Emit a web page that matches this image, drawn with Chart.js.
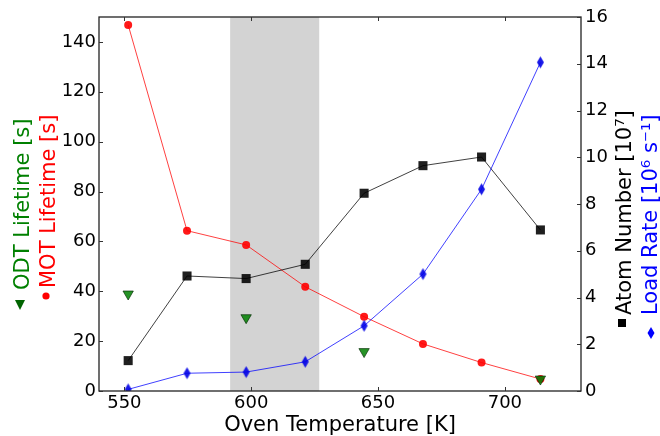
<!DOCTYPE html>
<html>
<head>
<meta charset="utf-8">
<script src="https://cdn.jsdelivr.net/npm/chart.js@4.4.1/dist/chart.umd.min.js"></script>
<style>
  body { margin: 0; background: #fff; }
  #wrap { width: 660px; height: 436px; }
</style>
</head>
<body>
<div id="wrap"><canvas id="chart" width="660" height="436"></canvas></div>
<script>
// values
const temps = [551.5, 574.7, 598, 621.3, 644.5, 667.7, 690.8, 714];
const motLifetime = [146.8, 64.3, 58.6, 41.8, 29.8, 18.9, 11.4, 4.8];
const atomNumber = [1.3, 4.92, 4.81, 5.42, 8.46, 9.64, 10.01, 6.89];
const loadRate = [0.07, 0.76, 0.81, 1.25, 2.79, 5.0, 8.63, 14.06];
const odtTemps = [551.5, 598, 644.5, 714];
const odtLifetime = [38.9, 29.4, 15.8, 4.8];
const shadedRange = [591.7, 626.8];

const xTicks = [550, 600, 650, 700];
const leftTicks = [0, 20, 40, 60, 80, 100, 120, 140];
const rightTicks = [0, 2, 4, 6, 8, 10, 12, 14, 16];

const FONT = '"DejaVu Sans", "Liberation Sans", sans-serif';

const pts = (xs, ys) => xs.map((x, i) => ({ x: x, y: ys[i] }));

// thin diamond marker like matplotlib 'd'
function thinDiamond(color) {
    const c = document.createElement('canvas');
    c.width = 9;
    c.height = 14;
    const g = c.getContext('2d');
    g.fillStyle = color;
    g.beginPath();
    g.moveTo(4.5, 1);
    g.lineTo(8, 7);
    g.lineTo(4.5, 13);
    g.lineTo(1, 7);
    g.closePath();
    g.fill();
    return c;
}

// grey band behind the data
const band = {
    id: 'band',
    beforeDatasetsDraw(chart) {
        const { ctx, chartArea, scales } = chart;
        const x0 = scales.x.getPixelForValue(shadedRange[0]);
        const x1 = scales.x.getPixelForValue(shadedRange[1]);
        ctx.save();
        ctx.fillStyle = '#d3d3d3';
        ctx.fillRect(x0, chartArea.top, x1 - x0, chartArea.bottom - chartArea.top);
        ctx.restore();
    }
};

// frame, inward ticks and the coloured axis titles
const frame = {
    id: 'frame',
    afterDraw(chart) {
        const { ctx, chartArea: a, scales } = chart;
        ctx.save();
        ctx.strokeStyle = '#222';
        ctx.lineWidth = 1.3;
        ctx.strokeRect(a.left, a.top, a.right - a.left, a.bottom - a.top);

        ctx.lineWidth = 1;
        ctx.strokeStyle = '#333';
        ctx.beginPath();
        xTicks.forEach(v => {
            const px = Math.round(scales.x.getPixelForValue(v)) + 0.5;
            ctx.moveTo(px, a.bottom); ctx.lineTo(px, a.bottom - 4);
            ctx.moveTo(px, a.top); ctx.lineTo(px, a.top + 4);
        });
        leftTicks.forEach(v => {
            const py = Math.round(scales.y.getPixelForValue(v)) + 0.5;
            ctx.moveTo(a.left, py); ctx.lineTo(a.left + 4, py);
        });
        rightTicks.forEach(v => {
            const py = Math.round(scales.y2.getPixelForValue(v)) + 0.5;
            ctx.moveTo(a.right, py); ctx.lineTo(a.right - 4, py);
        });
        ctx.stroke();

        ctx.font = '21px ' + FONT;
        vText(ctx, 'ODT Lifetime [s]', 29, 290, '#008000');
        vText(ctx, 'MOT Lifetime [s]', 55, 288, '#ff0000');
        vText(ctx, 'Atom Number [10\u2077]', 631, 315, '#000000');
        vText(ctx, 'Load Rate [10\u2076 s\u207b\u00b9]', 657, 315, '#0000ff');

        // little markers in front of the titles
        ctx.fillStyle = '#006400';
        ctx.beginPath();
        ctx.moveTo(15, 300); ctx.lineTo(25, 300); ctx.lineTo(20, 310);
        ctx.closePath();
        ctx.fill();
        ctx.fillStyle = '#ff0000';
        ctx.beginPath();
        ctx.arc(46, 296, 3.6, 0, Math.PI * 2);
        ctx.fill();
        ctx.fillStyle = '#000';
        ctx.fillRect(618, 319, 8, 8);
        ctx.fillStyle = '#0000ff';
        ctx.beginPath();
        ctx.moveTo(651, 327); ctx.lineTo(654.5, 333); ctx.lineTo(651, 339); ctx.lineTo(647.5, 333);
        ctx.closePath();
        ctx.fill();
        ctx.restore();
    }
};

function vText(ctx, text, x, y, color) {
    ctx.save();
    ctx.translate(x, y);
    ctx.rotate(-Math.PI / 2);
    ctx.fillStyle = color;
    ctx.textAlign = 'left';
    ctx.textBaseline = 'alphabetic';
    ctx.fillText(text, 0, 0);
    ctx.restore();
}

const tickFont = { family: FONT, size: 18 };

new Chart(document.getElementById('chart'), {
    type: 'scatter',
    data: {
        datasets: [
            {
                label: 'ODT Lifetime',
                data: pts(odtTemps, odtLifetime),
                yAxisID: 'y',
                showLine: false,
                pointStyle: 'triangle',
                pointRotation: 180,
                pointRadius: 6,
                pointBackgroundColor: 'rgba(0,128,0,0.85)',
                pointBorderColor: 'rgba(0,40,0,0.8)',
                pointBorderWidth: 0.8
            },
            {
                label: 'Load Rate',
                data: pts(temps, loadRate),
                yAxisID: 'y2',
                showLine: true,
                borderColor: 'rgba(0,0,255,0.75)',
                borderWidth: 1,
                pointStyle: thinDiamond('rgba(0,0,230,0.9)'),
                pointRadius: 6
            },
            {
                label: 'Atom Number',
                data: pts(temps, atomNumber),
                yAxisID: 'y2',
                showLine: true,
                borderColor: 'rgba(0,0,0,0.75)',
                borderWidth: 1,
                pointStyle: 'rect',
                pointRadius: 6.4,
                pointBackgroundColor: 'rgba(0,0,0,0.88)',
                pointBorderWidth: 0
            },
            {
                label: 'MOT Lifetime',
                data: pts(temps, motLifetime),
                yAxisID: 'y',
                showLine: true,
                borderColor: 'rgba(255,0,0,0.75)',
                borderWidth: 1,
                pointStyle: 'circle',
                pointRadius: 4,
                pointBackgroundColor: 'rgba(255,0,0,0.9)',
                pointBorderWidth: 0
            }
        ]
    },
    options: {
        responsive: false,
        animation: false,
        devicePixelRatio: 1,
        layout: { padding: { top: 17, left: 0, right: 0, bottom: 0 } },
        plugins: { legend: { display: false }, tooltip: { enabled: false } },
        scales: {
            x: {
                type: 'linear',
                min: 540,
                max: 730,
                afterFit: s => { s.height = 45; },
                grid: { display: false, drawTicks: false },
                border: { display: false },
                ticks: { stepSize: 50, includeBounds: false, font: tickFont, color: '#000', padding: 2, maxRotation: 0 },
                title: { display: true, text: 'Oven Temperature [K]', font: { family: FONT, size: 21 }, color: '#000', padding: { top: 0, bottom: -2 } }
            },
            y: {
                position: 'left',
                min: 0,
                max: 150,
                afterFit: s => { s.width = 99; },
                grid: { display: false, drawTicks: false },
                border: { display: false },
                ticks: { stepSize: 20, includeBounds: false, font: tickFont, color: '#000', padding: 3 }
            },
            y2: {
                position: 'right',
                min: 0,
                max: 16,
                afterFit: s => { s.width = 79; },
                grid: { display: false, drawTicks: false },
                border: { display: false },
                ticks: { stepSize: 2, font: tickFont, color: '#000', padding: 4 }
            }
        }
    },
    plugins: [band, frame]
});
</script>
</body>
</html>
